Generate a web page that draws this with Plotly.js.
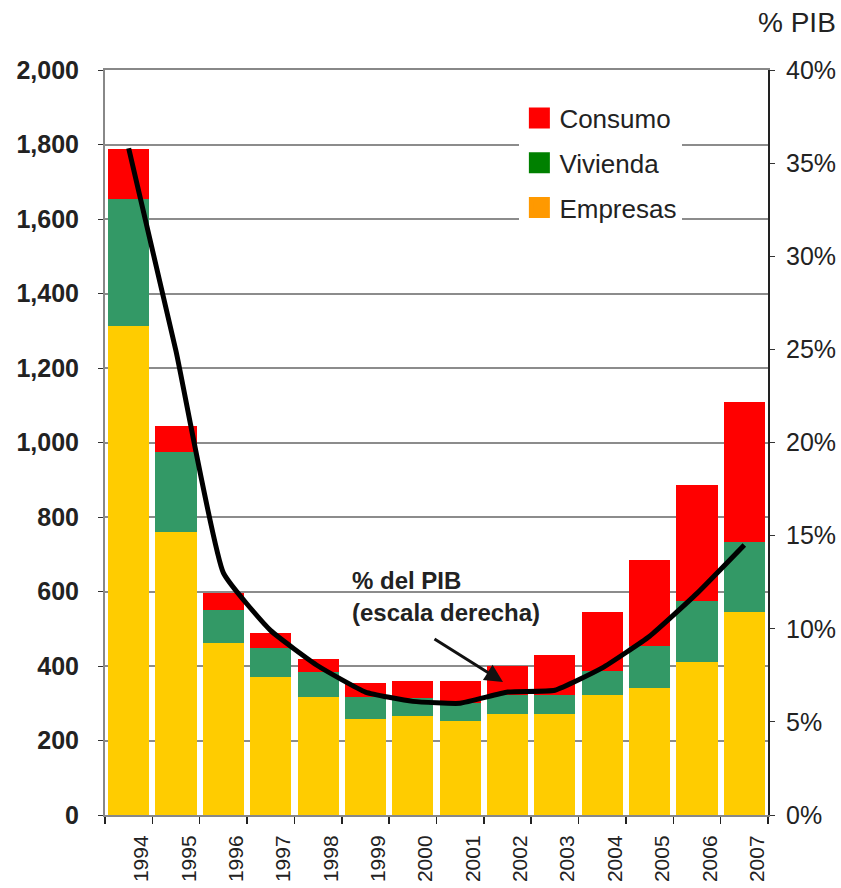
<!DOCTYPE html>
<html>
<head>
<meta charset="utf-8">
<script src="https://cdn.plot.ly/plotly-3.0.1.min.js"></script>
<style>html,body{margin:0;padding:0;background:#fff}#chart{width:841px;height:888px}</style>
</head>
<body>
<div id="chart"></div>
<script>
const years = [1994,1995,1996,1997,1998,1999,2000,2001,2002,2003,2004,2005,2006,2007];
const empresas = [1313,760,462,370,317,259,266,252,272,271,322,341,411,545];
const vivienda = [341,215,88,78,67,58,48,50,50,51,65,113,163,188];
const consumo  = [134,69,46,40,35,37,46,58,78,108,158,231,312,376];
const pctPIB   = [35.8,24.9,13.0,9.9,8.0,6.6,6.1,6.0,6.6,6.7,7.9,9.6,11.9,14.5];
const seriesNames = ['Consumo','Vivienda','Empresas'];
const legendColors = ['#FF0000','#008000','#FF9900'];
const barColors = {Consumo:'#FF0000', Vivienda:'#339966', Empresas:'#FFCC00'};
const yTickVals = [0,200,400,600,800,1000,1200,1400,1600,1800,2000];
const y2TickVals = [0,5,10,15,20,25,30,35,40];
const y2TickText = ['0%','5%','10%','15%','20%','25%','30%','35%','40%'];

const FONT = 'Liberation Sans, Arial, sans-serif';
const labelShift = 0.27;

const traces = [
  {type:'bar', x:years, y:empresas, name:'Empresas', marker:{color:barColors.Empresas}, showlegend:false},
  {type:'bar', x:years, y:vivienda, name:'Vivienda', marker:{color:barColors.Vivienda}, showlegend:false},
  {type:'bar', x:years, y:consumo, name:'Consumo', marker:{color:barColors.Consumo}, showlegend:false},
  {type:'scatter', mode:'lines', x:years, y:pctPIB, yaxis:'y2', name:'% del PIB',
   line:{color:'#000', width:5, shape:'spline', smoothing:0.4}, showlegend:false}
];
seriesNames.forEach((n,i)=>{
  traces.push({type:'scatter', mode:'markers', x:[null], y:[null], name:n,
    legendgroup:'g'+i, showlegend:true,
    marker:{symbol:'square', size:16, color:legendColors[i], line:{color:legendColors[i], width:5}}});
});

const layout = {
  width:841, height:888,
  margin:{l:105, r:73, t:70, b:73, pad:0},
  paper_bgcolor:'#fff', plot_bgcolor:'#fff',
  barmode:'stack', bargap:0.13,
  font:{family:FONT, color:'#222'},
  showlegend:true,
  legend:{x:0.625, y:0.967, xanchor:'left', yanchor:'top', bgcolor:'rgba(255,255,255,1)',
    traceorder:'grouped', tracegroupgap:8, font:{family:FONT, size:26, color:'#222'},
    itemwidth:30},
  xaxis:{
    type:'linear', range:[1993.5, 2007.5],
    tickvals: years.map(y=>y+labelShift), ticktext: years.map(String),
    tickangle:-90, ticks:'', ticklabelstandoff:10,
    tickfont:{family:FONT, size:21, color:'#222'},
    showgrid:false, zeroline:false,
    showline:true, linecolor:'#888', linewidth:2, mirror:true,
    minor:{tick0:1993.5, dtick:1, ticks:'outside', ticklen:7, tickcolor:'#222', tickwidth:1.5, showgrid:false}
  },
  yaxis:{
    range:[0,2000], tickvals:yTickVals, tickformat:',d',
    ticks:'outside', ticklen:5, tickcolor:'#333', ticklabelstandoff:14,
    tickfont:{family:FONT, size:25, color:'#222', weight:'bold'},
    showgrid:true, gridcolor:'#8c8c8c', gridwidth:2, zeroline:false,
    showline:true, linecolor:'#888', linewidth:2
  },
  yaxis2:{
    overlaying:'y', side:'right', range:[0,40], tickvals:y2TickVals, ticktext:y2TickText,
    ticks:'outside', ticklen:5, tickcolor:'#333', ticklabelstandoff:6,
    tickfont:{family:FONT, size:25, color:'#222'},
    showgrid:false, zeroline:false, showline:true, linecolor:'#222', linewidth:2
  },
  annotations:[
    {xref:'paper', yref:'paper', x:1.106, y:1.064, xanchor:'right', yanchor:'middle',
     text:'% PIB', showarrow:false, font:{family:FONT, size:28, color:'#222'}},
    {xref:'paper', yref:'paper', x:(350-105)/663, y:(815-580)/745, xanchor:'left', yanchor:'middle',
     text:'<b>% del PIB</b>', showarrow:false, font:{family:FONT, size:24, color:'#222'}},
    {xref:'paper', yref:'paper', x:(350-105)/663, y:(815-612)/745, xanchor:'left', yanchor:'middle',
     text:'<b>(escala derecha)</b>', showarrow:false, font:{family:FONT, size:24, color:'#222'}},
    {xref:'paper', yref:'paper', x:(503-105)/663, y:(815-682)/745, ax:-70, ay:-44,
     text:'', showarrow:true, arrowhead:2, arrowsize:1.2, arrowwidth:3, arrowcolor:'#111'}
  ]
};

Plotly.newPlot('chart', traces, layout, {displayModeBar:false, staticPlot:true});
</script>
</body>
</html>
